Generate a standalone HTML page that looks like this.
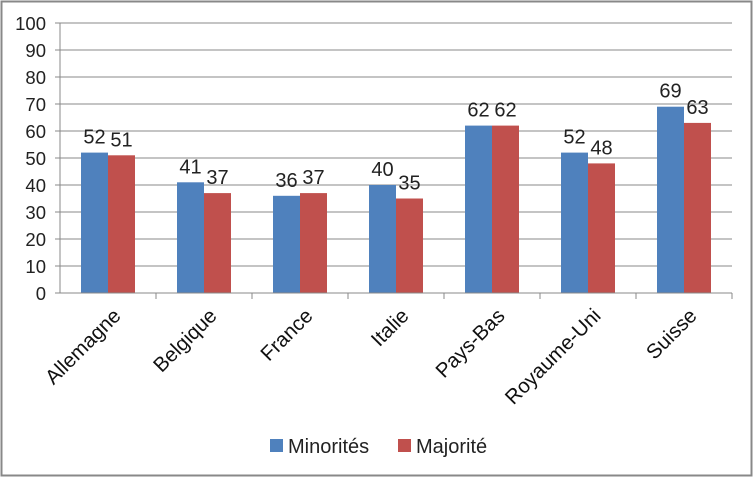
<!DOCTYPE html>
<html><head><meta charset="utf-8"><style>
body{margin:0;background:#fff}
svg{display:block;font-family:"Liberation Sans","DejaVu Sans",sans-serif}
</style></head><body>
<svg id="c" width="754" height="478">
<rect x="1.5" y="1.5" width="750" height="474" fill="#fff" stroke="#888" stroke-width="2"/>
</svg>
<script>
const categories=["Allemagne","Belgique","France","Italie","Pays-Bas","Royaume-Uni","Suisse"];
const minorites=[52,41,36,40,62,52,69];
const majorite=[51,37,37,35,62,48,63];
const yTicks=[0,10,20,30,40,50,60,70,80,90,100];
const seriesNames=["Minorités","Majorité"];
const NS="http://www.w3.org/2000/svg";
const svg=document.getElementById('c');
const X0=60,X1=732,Y0=293,Y1=23;
const cw=(X1-X0)/categories.length;
const y=v=>Y0-(v/100)*(Y0-Y1);
function mk(t,a,p){const e=document.createElementNS(NS,t);for(const k in a)e.setAttribute(k,a[k]);(p||svg).appendChild(e);return e;}
yTicks.forEach(t=>{
 const l=mk('line',{x1:X0-5,x2:X1,y1:y(t),y2:y(t),stroke:'#888','stroke-width':1});
 
 
 const tx=mk('text',{x:X0-14,y:y(t)+7,'text-anchor':'end','font-size':18.5,fill:'#222'});
 tx.textContent=t;
 
 
});
const ax=mk('line',{x1:X0,x2:X0,y1:Y1,y2:Y0,stroke:'#888'});


const colors=["#4f81bd","#c0504d"];
const series=[minorites,majorite];
categories.forEach((c,i)=>{
 const cx=X0+cw*(i+0.5);
 const tk=mk('line',{x1:X0+cw*(i+1),x2:X0+cw*(i+1),y1:Y0,y2:Y0+6,stroke:'#888'});
 
 
 series.forEach((s,j)=>{
  const bw=27,bx=cx-bw+j*bw;
  const r=mk('rect',{x:bx,y:y(s[i]),width:bw,height:Y0-y(s[i]),fill:colors[j]});
  
  
  const v=mk('text',{x:bx+bw/2,y:y(s[i])-9,'text-anchor':'middle','font-size':20,fill:'#222'});
  v.textContent=s[i];
  
  
 });
 const ax2=cx+14,ay=Y0+24;
 const lb=mk('text',{x:ax2,y:ay,'text-anchor':'end','font-size':20.5,fill:'#111',transform:`rotate(-45 ${ax2} ${ay})`});
 lb.textContent=c;
 
 
});
const bx=mk('line',{x1:X0,x2:X1,y1:Y0,y2:Y0,stroke:'#888'});


const lx=[270,398];
seriesNames.forEach((n,j)=>{
 const g=mk('g',{});
 
 
 mk('rect',{x:lx[j],y:439,width:13,height:13,fill:colors[j]},g);
 const t=mk('text',{x:lx[j]+18,y:453,'font-size':20,fill:'#222'},g);
 t.textContent=n;
});
</script>
</body></html>
